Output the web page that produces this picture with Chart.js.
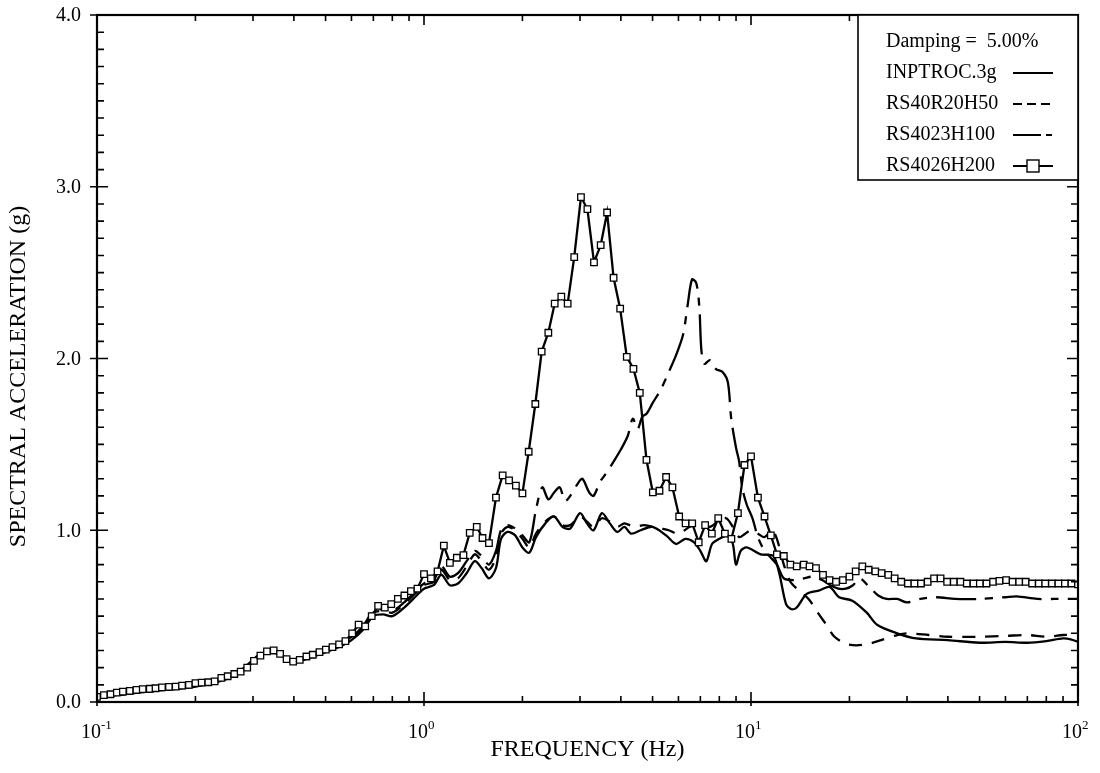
<!DOCTYPE html>
<html>
<head>
<meta charset="utf-8">
<script src="https://cdn.jsdelivr.net/npm/chart.js@4.4.1/dist/chart.umd.min.js"></script>
<style>
    html, body { margin: 0; padding: 0; background: #fff; }
    #wrap { width: 1100px; height: 773px; }
</style>
</head>
<body>
<div id="wrap"><canvas id="spectraChart" width="1100" height="773"></canvas></div>
<script>
// frequency grid of the RS4026H200 curve (50 points per decade)
const FREQ = [
    0.100, 0.105, 0.110, 0.115, 0.120, 0.126, 0.132, 0.138, 0.145, 0.151,
    0.158, 0.166, 0.174, 0.182, 0.191, 0.200, 0.209, 0.219, 0.229, 0.240,
    0.251, 0.263, 0.275, 0.288, 0.302, 0.316, 0.331, 0.347, 0.363, 0.380,
    0.398, 0.417, 0.437, 0.457, 0.479, 0.501, 0.525, 0.550, 0.575, 0.603,
    0.631, 0.661, 0.692, 0.724, 0.759, 0.794, 0.832, 0.871, 0.912, 0.955,
    1.00, 1.05, 1.10, 1.15, 1.20, 1.26, 1.32, 1.38, 1.45, 1.51,
    1.58, 1.66, 1.74, 1.82, 1.91, 2.00, 2.09, 2.19, 2.29, 2.40,
    2.51, 2.63, 2.75, 2.88, 3.02, 3.16, 3.31, 3.47, 3.63, 3.80,
    3.98, 4.17, 4.37, 4.57, 4.79, 5.01, 5.25, 5.50, 5.75, 6.03,
    6.31, 6.61, 6.92, 7.24, 7.59, 7.94, 8.32, 8.71, 9.12, 9.55,
    10.0, 10.5, 11.0, 11.5, 12.0, 12.6, 13.2, 13.8, 14.5, 15.1,
    15.8, 16.6, 17.4, 18.2, 19.1, 20.0, 20.9, 21.9, 22.9, 24.0,
    25.1, 26.3, 27.5, 28.8, 30.2, 31.6, 33.1, 34.7, 36.3, 38.0,
    39.8, 41.7, 43.7, 45.7, 47.9, 50.1, 52.5, 55.0, 57.5, 60.3,
    63.1, 66.1, 69.2, 72.4, 75.9, 79.4, 83.2, 87.1, 91.2, 95.5,
    100.0
];

const RS4026H200 = [
    0.03, 0.04, 0.045, 0.055, 0.06, 0.065, 0.07, 0.075, 0.077, 0.08,
    0.085, 0.088, 0.09, 0.095, 0.10, 0.11, 0.113, 0.115, 0.12, 0.14,
    0.15, 0.163, 0.177, 0.20, 0.24, 0.27, 0.295, 0.30, 0.28, 0.25,
    0.235, 0.245, 0.265, 0.275, 0.29, 0.305, 0.32, 0.335, 0.355, 0.40,
    0.45, 0.44, 0.50, 0.56, 0.55, 0.57, 0.60, 0.62, 0.645, 0.66,
    0.745, 0.72, 0.76, 0.91, 0.81, 0.84, 0.855, 0.985, 1.02, 0.955,
    0.925, 1.19, 1.32, 1.29, 1.26, 1.215, 1.457, 1.735, 2.04, 2.15,
    2.32, 2.36, 2.32, 2.59, 2.94, 2.87, 2.56, 2.66, 2.85, 2.47,
    2.29, 2.01, 1.94, 1.80, 1.41, 1.22, 1.23, 1.31, 1.25, 1.08,
    1.04, 1.04, 0.93, 1.03, 0.98, 1.07, 0.98, 0.95, 1.10, 1.38,
    1.43, 1.19, 1.08, 0.97, 0.86, 0.85, 0.80, 0.79, 0.80, 0.79,
    0.78, 0.74, 0.71, 0.70, 0.71, 0.73, 0.76, 0.79, 0.77, 0.76,
    0.75, 0.74, 0.72, 0.70, 0.69, 0.69, 0.69, 0.70, 0.72, 0.72,
    0.70, 0.70, 0.70, 0.69, 0.69, 0.69, 0.69, 0.70, 0.705, 0.71,
    0.70, 0.70, 0.70, 0.69, 0.69, 0.69, 0.69, 0.69, 0.69, 0.69,
    0.685
];

// [frequency (Hz), spectral acceleration (g)]
const INPTROC = [
    [0.1, 0.03], [0.12, 0.045], [0.15, 0.065], [0.2, 0.09], [0.25, 0.135], [0.28, 0.19],
    [0.31, 0.26], [0.33, 0.29], [0.36, 0.28], [0.4, 0.235], [0.45, 0.26], [0.5, 0.29],
    [0.55, 0.32], [0.6, 0.36], [0.65, 0.42], [0.7, 0.50], [0.75, 0.51], [0.8, 0.50],
    [0.87, 0.55], [0.95, 0.62], [1.0, 0.66], [1.07, 0.68], [1.13, 0.74], [1.2, 0.68],
    [1.27, 0.69], [1.35, 0.75], [1.43, 0.82], [1.5, 0.78], [1.58, 0.72], [1.66, 0.78],
    [1.72, 0.95], [1.8, 0.99], [1.9, 0.97], [2.0, 0.90], [2.1, 0.87], [2.2, 0.96],
    [2.35, 1.04], [2.5, 1.08], [2.65, 1.02], [2.8, 1.01], [3.0, 1.10], [3.15, 1.04],
    [3.3, 1.00], [3.5, 1.10], [3.7, 1.04], [3.9, 0.99], [4.1, 1.02], [4.3, 0.98],
    [4.6, 1.00], [5.0, 1.02], [5.5, 0.97], [5.9, 0.92], [6.3, 0.95], [6.7, 0.93],
    [7.0, 0.88], [7.3, 0.82], [7.6, 0.92], [8.0, 0.95], [8.5, 0.97], [8.8, 0.92],
    [9.0, 0.80], [9.3, 0.88], [9.7, 0.90], [10.7, 0.86], [11.7, 0.85], [12.2, 0.75],
    [12.8, 0.57], [13.3, 0.54], [13.8, 0.55], [14.8, 0.63], [16.2, 0.65], [17.4, 0.67],
    [18.6, 0.61], [20.4, 0.59], [22.6, 0.52], [24.3, 0.45], [28, 0.40], [32, 0.37],
    [40, 0.36], [50, 0.345], [60, 0.35], [70, 0.345], [80, 0.355], [90, 0.37],
    [95, 0.365], [100, 0.35]
];

const RS40R20H50 = [
    [0.1, 0.03], [0.12, 0.045], [0.15, 0.065], [0.2, 0.092], [0.25, 0.14], [0.28, 0.19],
    [0.31, 0.265], [0.33, 0.295], [0.36, 0.28], [0.4, 0.235], [0.45, 0.26], [0.5, 0.295],
    [0.55, 0.33], [0.6, 0.37], [0.65, 0.43], [0.7, 0.52], [0.75, 0.53], [0.8, 0.52],
    [0.87, 0.57], [0.95, 0.64], [1.0, 0.68], [1.07, 0.70], [1.13, 0.77], [1.2, 0.71],
    [1.27, 0.72], [1.35, 0.79], [1.43, 0.86], [1.5, 0.82], [1.58, 0.77], [1.66, 0.84],
    [1.72, 0.98], [1.8, 1.02], [1.9, 1.00], [2.0, 0.95], [2.1, 0.90], [2.2, 0.98],
    [2.35, 1.05], [2.5, 1.08], [2.65, 1.03], [2.8, 1.03], [3.0, 1.08], [3.15, 1.05],
    [3.3, 1.02], [3.5, 1.07], [3.7, 1.05], [3.9, 1.02], [4.1, 1.04], [4.4, 1.02],
    [4.7, 1.03], [5.0, 1.02], [5.3, 1.01], [5.6, 1.00], [6.0, 0.98], [6.5, 1.02],
    [7.0, 1.04], [7.5, 1.02], [8.0, 1.06], [8.4, 1.07], [8.8, 1.02], [9.2, 0.96],
    [9.6, 0.98], [10.0, 1.00], [10.5, 0.98], [11.0, 0.96], [11.6, 1.00], [12.0, 0.95],
    [12.6, 0.80], [13.2, 0.70], [14.0, 0.65], [15.0, 0.60], [16.0, 0.52], [17.0, 0.45],
    [18.0, 0.38], [19.5, 0.34], [21, 0.33], [23, 0.34], [25, 0.36], [28, 0.39],
    [30, 0.40], [35, 0.39], [40, 0.38], [50, 0.38], [60, 0.385], [70, 0.39],
    [80, 0.38], [90, 0.39], [100, 0.39]
];

const RS4023H100 = [
    [0.1, 0.03], [0.12, 0.045], [0.15, 0.066], [0.2, 0.093], [0.25, 0.14], [0.28, 0.195],
    [0.31, 0.27], [0.33, 0.297], [0.36, 0.282], [0.4, 0.237], [0.45, 0.262], [0.5, 0.30],
    [0.55, 0.335], [0.6, 0.38], [0.65, 0.44], [0.7, 0.53], [0.75, 0.54], [0.8, 0.53],
    [0.87, 0.58], [0.95, 0.65], [1.0, 0.69], [1.07, 0.71], [1.13, 0.79], [1.2, 0.73],
    [1.27, 0.75], [1.35, 0.82], [1.43, 0.88], [1.5, 0.85], [1.58, 0.80], [1.66, 0.88],
    [1.72, 1.00], [1.8, 1.03], [1.9, 1.01], [2.0, 0.97], [2.1, 0.93], [2.2, 1.12],
    [2.3, 1.25], [2.4, 1.18], [2.5, 1.22], [2.6, 1.25], [2.7, 1.17], [2.8, 1.20],
    [2.95, 1.27], [3.05, 1.30], [3.2, 1.22], [3.3, 1.20], [3.45, 1.28], [3.6, 1.33],
    [3.8, 1.40], [4.0, 1.47], [4.2, 1.55], [4.35, 1.65], [4.5, 1.59], [4.65, 1.66],
    [4.8, 1.68], [5.0, 1.74], [5.3, 1.82], [5.6, 1.92], [5.9, 2.02], [6.2, 2.14],
    [6.4, 2.31], [6.6, 2.46], [6.8, 2.44], [6.95, 2.30], [7.05, 2.05], [7.2, 1.97],
    [7.5, 1.99], [7.8, 1.94], [8.2, 1.92], [8.5, 1.86], [8.7, 1.65], [9.0, 1.48],
    [9.2, 1.40], [9.4, 1.25], [9.7, 1.15], [10.1, 1.07], [10.5, 0.96], [11.0, 0.88],
    [11.5, 0.84], [12.0, 0.80], [12.6, 0.72], [13.5, 0.71], [14.5, 0.72], [15.5, 0.73],
    [16.5, 0.71], [17.5, 0.68], [18.5, 0.66], [19.5, 0.66], [20.5, 0.68], [21.5, 0.72],
    [23, 0.67], [24.5, 0.62], [26, 0.60], [28, 0.60], [30, 0.58], [33, 0.60],
    [37, 0.61], [42, 0.60], [50, 0.60], [60, 0.61], [65, 0.615], [75, 0.60],
    [85, 0.60], [100, 0.60]
];

const SERIES_NAMES = ['INPTROC.3g', 'RS40R20H50', 'RS4023H100', 'RS4026H200'];
const Y_TICKS = [0, 1, 2, 3, 4];
const Y_LABELS = ['0.0', '1.0', '2.0', '3.0', '4.0'];
const X_DECADES = [0.1, 1, 10, 100];
const X_EXPONENTS = ['-1', '0', '1', '2'];
const DAMPING_TEXT = 'Damping =  5.00%';

const FONT = '"Liberation Serif", "Times New Roman", serif';
const DASH_SHORT = [13, 10];
const DASH_LONG = [40, 9, 8, 9];

const toPoints = (pairs) => pairs.map(p => ({ x: p[0], y: p[1] }));

// axes frame, inward ticks, tick labels, titles and the legend box
const frameAndLabels = {
    id: 'frameAndLabels',
    afterDatasetsDraw(chart) {
        const ctx = chart.ctx;
        const { left, right, top, bottom } = chart.chartArea;
        const xs = chart.scales.x;
        const ys = chart.scales.y;

        ctx.save();
        ctx.strokeStyle = '#000';
        ctx.fillStyle = '#000';

        // y ticks on both sides, every 0.1 g
        ctx.lineWidth = 1.6;
        for (let k = 0; k <= 40; k++) {
            const y = ys.getPixelForValue(k / 10);
            const major = k % 10 === 0;
            const len = major ? 11 : 7;
            ctx.beginPath();
            ctx.moveTo(major ? left - 7 : left, y);
            ctx.lineTo(left + len, y);
            ctx.moveTo(right - len, y);
            ctx.lineTo(right, y);
            ctx.stroke();
        }

        // log x ticks on bottom and top
        for (let d = 0; d < X_DECADES.length; d++) {
            const base = X_DECADES[d];
            for (let m = 1; m <= 9; m++) {
                const f = base * m;
                if (f > 100) break;
                const x = xs.getPixelForValue(f);
                const len = m === 1 ? 10 : 6;
                ctx.beginPath();
                ctx.moveTo(x, bottom + (m === 1 ? 4 : 0));
                ctx.lineTo(x, bottom - len);
                ctx.moveTo(x, top);
                ctx.lineTo(x, top + len);
                ctx.stroke();
            }
        }

        // frame
        ctx.lineWidth = 2.2;
        ctx.strokeRect(left, top, right - left, bottom - top);

        // y tick labels
        ctx.font = '20px ' + FONT;
        ctx.textAlign = 'right';
        ctx.textBaseline = 'middle';
        Y_TICKS.forEach((v, i) => {
            ctx.fillText(Y_LABELS[i], left - 16, ys.getPixelForValue(v) + 1);
        });

        // x tick labels: 10 with a raised exponent
        X_DECADES.forEach((f, i) => {
            const x = xs.getPixelForValue(f);
            ctx.font = '20px ' + FONT;
            ctx.textAlign = 'right';
            ctx.textBaseline = 'alphabetic';
            ctx.fillText('10', x + 4, bottom + 36);
            ctx.font = '13px ' + FONT;
            ctx.textAlign = 'left';
            ctx.fillText(X_EXPONENTS[i], x + 4, bottom + 27);
        });

        // axis titles
        ctx.font = '24px ' + FONT;
        ctx.textAlign = 'center';
        ctx.textBaseline = 'middle';
        ctx.fillText('FREQUENCY (Hz)', (left + right) / 2, 750);
        ctx.save();
        ctx.translate(19, (top + bottom) / 2 + 18);
        ctx.rotate(-Math.PI / 2);
        ctx.fillText('SPECTRAL ACCELERATION (g)', 0, 0);
        ctx.restore();

        // legend box
        const bx = 858, by = top, bw = right - bx, bh = 165;
        ctx.fillStyle = '#fff';
        ctx.fillRect(bx, by, bw, bh);
        ctx.fillStyle = '#000';
        ctx.lineWidth = 1.6;
        ctx.strokeRect(bx, by, bw, bh);
        ctx.font = '20px ' + FONT;
        ctx.textAlign = 'left';
        ctx.textBaseline = 'middle';
        ctx.fillText(DAMPING_TEXT, 886, 42);
        const rows = [73, 104, 135, 166];
        const dashes = [[], [9, 5], [28, 5, 6, 5], []];
        SERIES_NAMES.forEach((name, i) => {
            const y = rows[i];
            ctx.fillText(name, 886, y);
            ctx.lineWidth = 2;
            ctx.setLineDash(dashes[i]);
            ctx.beginPath();
            ctx.moveTo(1013, y);
            ctx.lineTo(1053, y);
            ctx.stroke();
            ctx.setLineDash([]);
            if (i === 3) {
                ctx.lineWidth = 1.4;
                ctx.fillStyle = '#fff';
                ctx.fillRect(1027, y - 6, 12, 12);
                ctx.strokeRect(1027, y - 6, 12, 12);
                ctx.fillStyle = '#000';
            }
        });

        ctx.restore();
    }
};

const ctx = document.getElementById('spectraChart');

new Chart(ctx, {
    type: 'line',
    data: {
        datasets: [
            {
                label: SERIES_NAMES[3],
                data: FREQ.map((f, i) => ({ x: f, y: RS4026H200[i] })),
                borderColor: '#000',
                borderWidth: 2.3,
                pointStyle: 'rect',
                pointRadius: 4.6,
                pointBorderWidth: 1.3,
                pointBackgroundColor: '#fff',
                pointBorderColor: '#000',
                tension: 0,
                order: 0
            },
            {
                label: SERIES_NAMES[0],
                data: toPoints(INPTROC),
                borderColor: '#000',
                borderWidth: 2.3,
                pointRadius: 0,
                tension: 0.3,
                order: 1
            },
            {
                label: SERIES_NAMES[1],
                data: toPoints(RS40R20H50),
                borderColor: '#000',
                borderWidth: 2.3,
                borderDash: DASH_SHORT,
                pointRadius: 0,
                tension: 0.3,
                order: 2
            },
            {
                label: SERIES_NAMES[2],
                data: toPoints(RS4023H100),
                borderColor: '#000',
                borderWidth: 2.3,
                borderDash: DASH_LONG,
                pointRadius: 0,
                tension: 0.3,
                order: 3
            }
        ]
    },
    options: {
        responsive: false,
        animation: false,
        layout: { padding: { left: 97, right: 22, top: 15, bottom: 71 } },
        plugins: {
            legend: { display: false },
            tooltip: { enabled: false },
            title: { display: false }
        },
        scales: {
            x: { type: 'logarithmic', min: 0.1, max: 100, display: false },
            y: { type: 'linear', min: 0, max: 4, display: false }
        }
    },
    plugins: [frameAndLabels]
});
</script>
</body>
</html>
